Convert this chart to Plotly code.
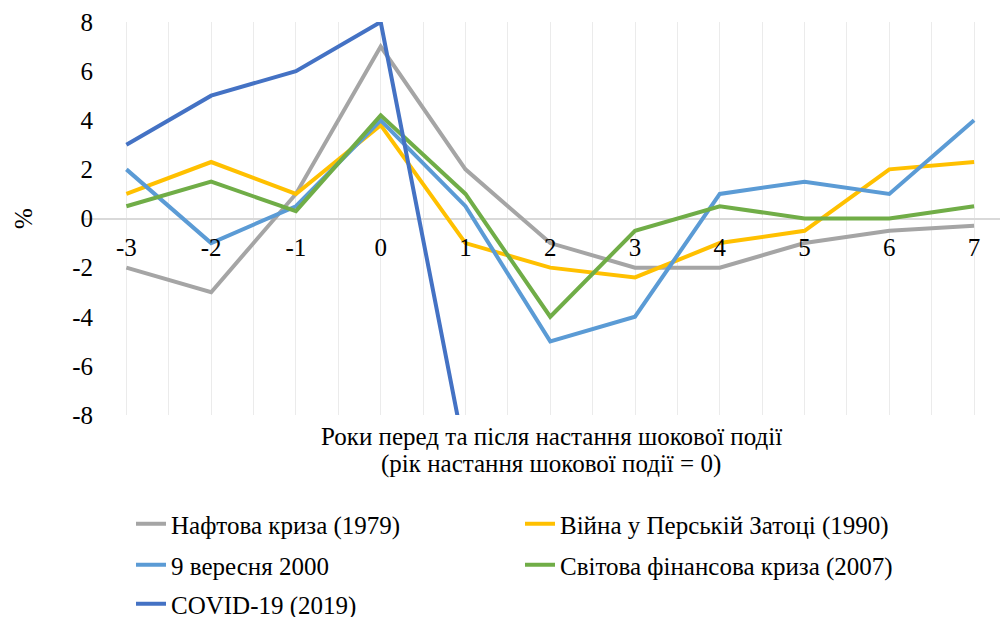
import plotly.graph_objects as go

years = [-3, -2, -1, 0, 1, 2, 3, 4, 5, 6, 7]
tick_labels = ["-3", "-2", "-1", "0", "1", "2", "3", "4", "5", "6", "7"]
y_ticks = [-8, -6, -4, -2, 0, 2, 4, 6, 8]
y_tick_labels = ["-8", "-6", "-4", "-2", "0", "2", "4", "6", "8"]

oil_1979 = [-2, -3, 1, 7, 2, -1, -2, -2, -1, -0.5, -0.3]
gulf_1990 = [1, 2.3, 1, 3.8, -1, -2, -2.4, -1, -0.5, 2, 2.3]
sept_2000 = [2, -1, 0.5, 4, 0.5, -5, -4, 1, 1.5, 1, 4]
gfc_2007 = [0.5, 1.5, 0.3, 4.2, 1, -4, -0.5, 0.5, 0, 0, 0.5]
covid_years = [-3, -2, -1, 0, 1]
covid_2019 = [3, 5, 6, 8, -9.7]

names = ["Нафтова криза (1979)", "Війна у Перській Затоці (1990)",
         "9 вересня 2000", "Світова фінансова криза (2007)", "COVID-19 (2019)"]
colors = ["#A5A5A5", "#FFC000", "#5B9BD5", "#70AD47", "#4472C4"]
title_lines = ["Роки перед та після настання шокової події",
               "(рік настання шокової події = 0)"]

FONT = "Times New Roman"
FS = 25
OFF = 8  # page body margin
W, H = 1008 - OFF, 617 - OFF
L, R, T, B = 84 - OFF, 0, 22 - OFF, 202
PW, PH = W - L - R, H - T - B

fig = go.Figure()
series = [(years, oil_1979), (years, gulf_1990), (years, sept_2000),
          (years, gfc_2007), (covid_years, covid_2019)]
legends = ["legend", "legend", "legend2", "legend2", "legend3"]
for (xs, ys), nm, c, lg in zip(series, names, colors, legends):
    fig.add_trace(go.Scatter(x=xs, y=ys, mode="lines", name=nm,
                             line=dict(color=c, width=4), legend=lg))

def px_x(p):
    return (p - OFF - L) / PW

def px_y(p):
    return (H - B - (p - OFF)) / PH

def tfont():
    return dict(family=FONT, size=FS, color="#000000")

leg_common = dict(orientation="h", xanchor="left", yanchor="middle",
                  entrywidth=344, bgcolor="rgba(0,0,0,0)", borderwidth=0,
                  tracegroupgap=0)

fig.update_layout(
    width=W, height=H,
    margin=dict(l=L, r=R, t=T, b=B, autoexpand=False),
    paper_bgcolor="white", plot_bgcolor="white",
    xaxis=dict(range=[-3.5, 7.4], tickvals=years, ticktext=tick_labels,
               showgrid=True, gridcolor="#EBEBEB", gridwidth=1,
               minor=dict(dtick=0.5, tick0=-3.5, showgrid=True,
                          gridcolor="#EBEBEB", gridwidth=1),
               zeroline=False, showline=False, ticks="", automargin=False,
               anchor="free", position=0.5, ticklabelstandoff=11,
               tickfont=tfont()),
    yaxis=dict(range=[-8, 8], tickvals=y_ticks, ticktext=y_tick_labels,
               showgrid=False, automargin=False,
               zeroline=True, zerolinecolor="#D9D9D9", zerolinewidth=1.5,
               showline=False, ticks="", ticklabelstandoff=-10,
               tickfont=tfont(),
               title=dict(text="%", font=tfont(), standoff=32)),
    legend=dict(x=px_x(131), y=px_y(524), font=tfont(), **leg_common),
    legend2=dict(x=px_x(131), y=px_y(565), font=tfont(), **leg_common),
    legend3=dict(x=px_x(131), y=px_y(604), font=tfont(), **leg_common),
    annotations=[dict(text=t, xref="paper", yref="paper", x=px_x(551), y=px_y(yc),
                      xanchor="center", yanchor="middle", showarrow=False,
                      font=tfont())
                 for t, yc in zip(title_lines, [436, 464])],
)

fig.write_html("out.html")
